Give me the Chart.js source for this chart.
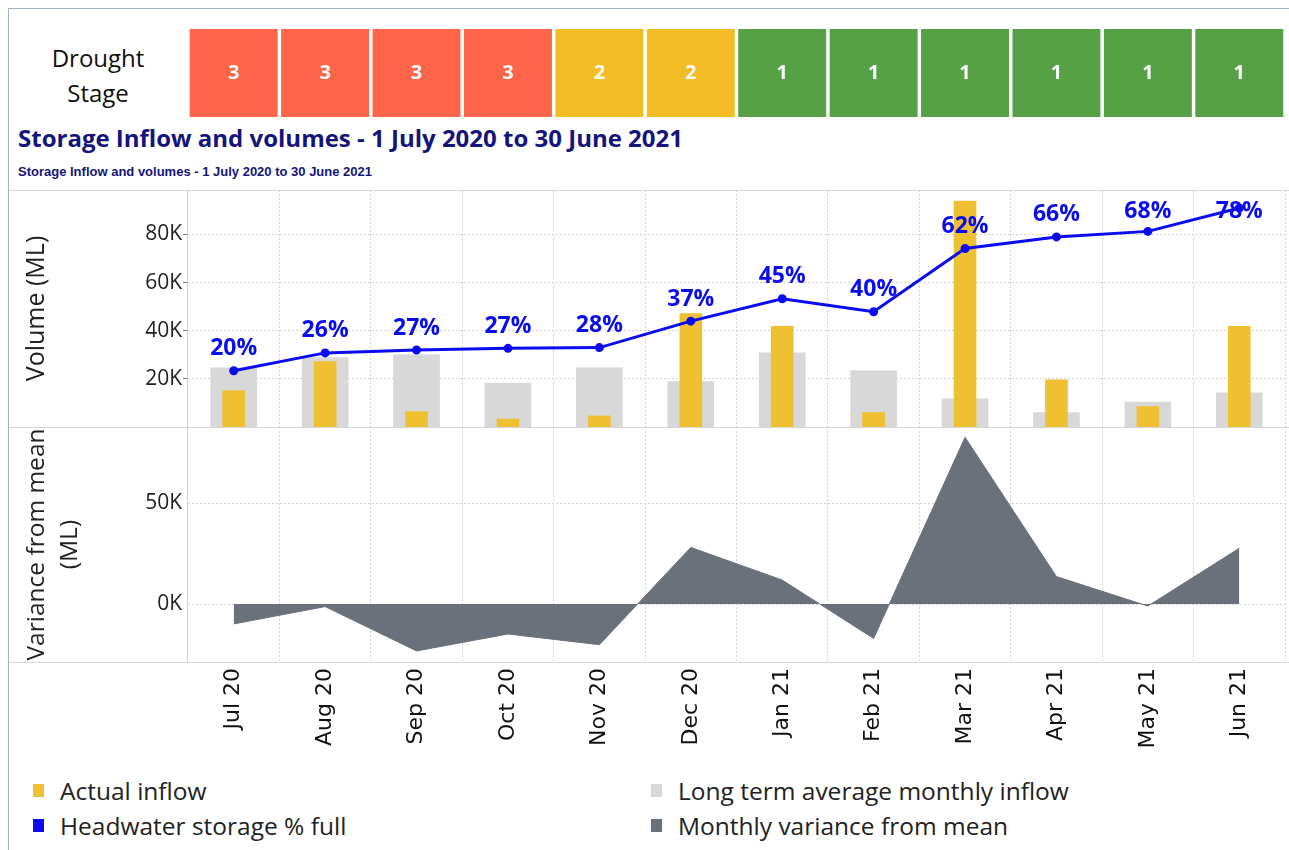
<!DOCTYPE html>
<html>
<head>
<meta charset="utf-8">
<script src="https://cdn.jsdelivr.net/npm/chart.js@4.4.1/dist/chart.umd.min.js"></script>
<style>
  html, body { margin: 0; padding: 0; background: #fff; }
  body { width: 1289px; height: 850px; position: relative; overflow: hidden; font-family: 'Open Sans', sans-serif; }
  .frame { position: absolute; left: 8px; top: 8px; width: 1300px; height: 900px; border-left: 1px solid #9fb1c6; border-top: 1px solid #9fb1c6; }
  .box { position: absolute; }
  .sep { position: absolute; left: 10px; width: 1279px; height: 1px; background: #d6d6d6; }
  .vsep { position: absolute; left: 187px; top: 190px; width: 1px; height: 473px; background: #d0d0d0; z-index: 2; }
  .stage-label { position: absolute; left: 38px; top: 40px; width: 120px; text-align: center; font-size: 24px; line-height: 35px; color: #111; }
  .title { position: absolute; left: 18px; top: 121px; font-size: 24px; font-weight: bold; color: #14147a; white-space: nowrap; }
  .subtitle { position: absolute; left: 18px; top: 164px; font-family: 'Liberation Sans', sans-serif; font-size: 13px; font-weight: bold; color: #14147a; white-space: nowrap; }
  .legend { position: absolute; font-size: 24.5px; color: #222; white-space: nowrap; }
  .legend span.m { position: absolute; left: -27px; top: 10px; width: 11px; height: 13px; }
</style>
</head>
<body>
<div class="frame"></div>
<div class="stage-label">Drought<br>Stage</div>
<div class="box" style="left:0;top:29px;width:1289px;height:88px;"><canvas id="stageChart"></canvas></div>
<div class="title">Storage Inflow and volumes - 1 July 2020 to 30 June 2021</div>
<div class="subtitle">Storage Inflow and volumes - 1 July 2020 to 30 June 2021</div>
<div class="sep" style="top:190px;"></div>
<div class="box" style="left:0;top:190px;width:1289px;height:237px;"><canvas id="volumeChart"></canvas></div>
<div class="sep" style="top:427px;"></div>
<div class="box" style="left:0;top:427px;width:1289px;height:333px;"><canvas id="varianceChart"></canvas></div>
<div class="sep" style="top:662px;"></div>
<div class="vsep"></div>

<div class="legend" style="left:60px;top:774px;"><span class="m" style="background:#efc132"></span>Actual inflow</div>
<div class="legend" style="left:60px;top:809px;"><span class="m" style="background:#0b0bf0"></span>Headwater storage % full</div>
<div class="legend" style="left:678px;top:774px;"><span class="m" style="background:#d8d8d8"></span>Long term average monthly inflow</div>
<div class="legend" style="left:678px;top:809px;"><span class="m" style="background:#6b717a"></span>Monthly variance from mean</div>

<script>
// Daten
const months = ['Jul 20', 'Aug 20', 'Sep 20', 'Oct 20', 'Nov 20', 'Dec 20', 'Jan 21', 'Feb 21', 'Mar 21', 'Apr 21', 'May 21', 'Jun 21'];
const droughtStage = [3, 3, 3, 3, 2, 2, 1, 1, 1, 1, 1, 1];
const actualInflow = [15100, 27200, 6400, 3300, 4600, 47100, 41800, 6000, 93900, 19600, 8500, 41800];
const longTermAvg = [24600, 28800, 30000, 18300, 24600, 18900, 30800, 23500, 11700, 6000, 10400, 14200];
const storageVolume = [23400, 30800, 32000, 32700, 33000, 44000, 53300, 47900, 74200, 79000, 81300, 91000];
const storagePct = ['20%', '26%', '27%', '27%', '28%', '37%', '45%', '40%', '62%', '66%', '68%', '78%'];
const variance = [-9900, -1300, -23300, -14900, -20200, 28100, 11900, -17100, 82800, 13600, -1000, 27700];
const volumeTicks = [20000, 40000, 60000, 80000];
const varianceTicks = [0, 50000];

const stageColors = { 1: '#56a146', 2: '#f3bc25', 3: '#fd6548' };
const AXIS_W = 188;
const kFmt = (v) => `${v / 1000}K`;
const tickFont = { family: "'Open Sans', sans-serif", size: 21 };
const gridColor = '#d2d2d2';

// y-Achse auf feste Breite, damit alle drei Diagramme bündig sind
function fixYAxis(scale) {
    scale.width = AXIS_W;
    scale.paddingTop = 0;
    scale.paddingBottom = 0;
}

// Drought stage Kästchen
const stageLabels = {
    id: 'stageLabels',
    afterDatasetsDraw(chart) {
        const { ctx } = chart;
        const meta = chart.getDatasetMeta(0);
        ctx.save();
        ctx.fillStyle = '#fff';
        ctx.font = "bold 20px 'Open Sans', sans-serif";
        ctx.textAlign = 'center';
        ctx.textBaseline = 'middle';
        meta.data.forEach((bar, i) => {
            ctx.fillText(String(droughtStage[i]), bar.x, (chart.chartArea.top + chart.chartArea.bottom) / 2);
        });
        ctx.restore();
    }
};

new Chart(document.getElementById('stageChart'), {
    type: 'bar',
    data: {
        labels: months,
        datasets: [{
            data: droughtStage.map(() => 1),
            backgroundColor: droughtStage.map(s => stageColors[s]),
            categoryPercentage: 1,
            barPercentage: 0.962
        }]
    },
    options: {
        responsive: true,
        maintainAspectRatio: false,
        animation: false,
        layout: { padding: { left: AXIS_W, right: 4 }, autoPadding: false },
        plugins: { legend: { display: false }, tooltip: { enabled: false } },
        scales: {
            x: { display: false },
            y: { display: false, min: 0, max: 1 }
        }
    },
    plugins: [stageLabels]
});

// Prozent-Beschriftung über der Linie
const pctLabels = {
    id: 'pctLabels',
    afterDatasetsDraw(chart) {
        const { ctx, chartArea } = chart;
        const meta = chart.getDatasetMeta(0);
        ctx.save();
        ctx.fillStyle = '#0b0bf0';
        ctx.font = "bold 23px 'Open Sans', sans-serif";
        ctx.textAlign = 'center';
        ctx.textBaseline = 'middle';
        meta.data.forEach((pt, i) => {
            const y = Math.max(pt.y - 22, chartArea.top + 21);
            ctx.fillText(storagePct[i], pt.x, y);
        });
        ctx.restore();
    }
};

new Chart(document.getElementById('volumeChart'), {
    data: {
        labels: months,
        datasets: [
            {
                type: 'line',
                label: 'Headwater storage % full',
                data: storageVolume,
                borderColor: '#0b0bf0',
                backgroundColor: '#0b0bf0',
                borderWidth: 3,
                pointRadius: 3,
                tension: 0,
                clip: false,
                order: 0
            },
            {
                type: 'bar',
                label: 'Actual inflow',
                data: actualInflow,
                backgroundColor: '#efc132',
                barThickness: 22,
                grouped: false,
                order: 1
            },
            {
                type: 'bar',
                label: 'Long term average monthly inflow',
                data: longTermAvg,
                backgroundColor: '#d8d8d8',
                barThickness: 46,
                grouped: false,
                order: 2
            }
        ]
    },
    options: {
        responsive: true,
        maintainAspectRatio: false,
        animation: false,
        layout: { padding: { right: 4 }, autoPadding: false },
        plugins: { legend: { display: false }, tooltip: { enabled: false } },
        scales: {
            x: {
                offset: true,
                grid: { offset: true, color: gridColor, drawTicks: false },
                border: { display: false, dash: [2, 2] },
                ticks: { display: false },
                afterFit: (s) => { s.height = 0; s.paddingLeft = 0; s.paddingRight = 0; }
            },
            y: {
                min: 0,
                max: 98500,
                afterBuildTicks: (s) => { s.ticks = volumeTicks.map(v => ({ value: v })); },
                afterFit: fixYAxis,
                grid: { color: gridColor, tickLength: 5, tickColor: '#777', tickBorderDash: [] },
                border: { display: false, dash: [2, 2] },
                ticks: { callback: kFmt, font: tickFont, color: '#222', padding: 1 },
                title: {
                    display: true,
                    text: 'Volume (ML)',
                    font: { family: "'Open Sans', sans-serif", size: 25 },
                    color: '#222',
                    padding: { top: 22 }
                }
            }
        }
    },
    plugins: [pctLabels]
});

new Chart(document.getElementById('varianceChart'), {
    type: 'line',
    data: {
        labels: months,
        datasets: [{
            label: 'Monthly variance from mean',
            data: variance,
            borderColor: '#6b717a',
            backgroundColor: '#6b717a',
            borderWidth: 1,
            pointRadius: 0,
            tension: 0,
            fill: 'origin'
        }]
    },
    options: {
        responsive: true,
        maintainAspectRatio: false,
        animation: false,
        layout: { padding: { right: 4 }, autoPadding: false },
        plugins: { legend: { display: false }, tooltip: { enabled: false } },
        scales: {
            x: {
                offset: true,
                grid: { offset: true, color: gridColor, drawTicks: false },
                border: { display: false, dash: [2, 2] },
                ticks: { font: { family: "'DejaVu Sans', sans-serif", size: 22 }, color: '#111', minRotation: 90, maxRotation: 90, padding: 6 },
                afterFit: (s) => { s.height = 98; s.paddingLeft = 0; s.paddingRight = 0; }
            },
            y: {
                min: -28800,
                max: 87900,
                afterBuildTicks: (s) => { s.ticks = varianceTicks.map(v => ({ value: v })); },
                afterFit: fixYAxis,
                grid: { color: gridColor, drawTicks: false },
                border: { display: false, dash: [2, 2] },
                ticks: { callback: kFmt, font: tickFont, color: '#222', padding: 6 },
                title: {
                    display: true,
                    text: ['Variance from mean', '(ML)'],
                    font: { family: "'Open Sans', sans-serif", size: 24.5, lineHeight: 1.35 },
                    color: '#222',
                    padding: { top: 20 }
                }
            }
        }
    }
});
</script>
</body>
</html>
